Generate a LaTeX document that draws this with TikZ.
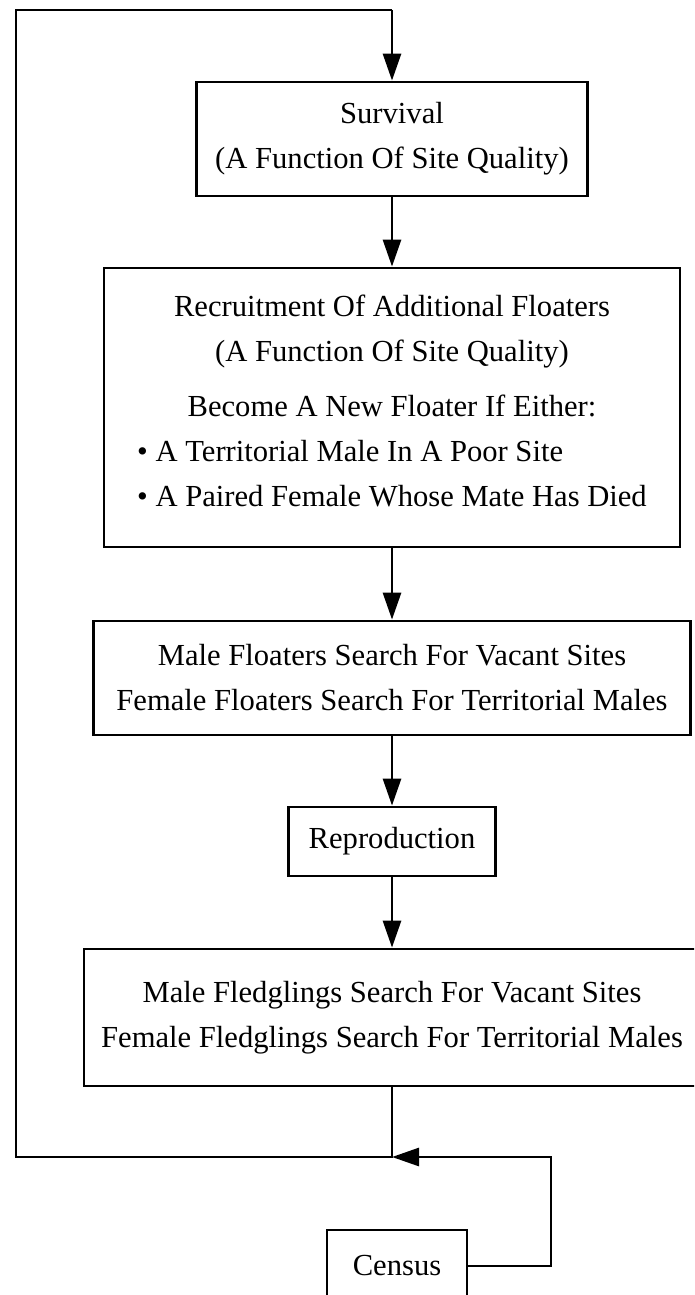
\documentclass[tikz,border=0pt]{standalone}
\usepackage{fontspec}
\setmainfont{Liberation Serif}
\usetikzlibrary{arrows.meta}
\begin{document}
\begin{tikzpicture}[x=1pt,y=-1pt,
  box/.style={draw, line width=2.8pt, inner sep=0pt, align=center,
    font=\fontsize{30.6}{45}\selectfont},
  conn/.style={line width=2.8pt},
  arr/.style={conn, -{Triangle[length=27pt,width=18pt]}}]
\useasboundingbox (0,0) rectangle (694,1295);
\clip (0,0) rectangle (694,1295);
\node[box, minimum width=391pt, minimum height=114pt] (surv) at (392,139)
  {Survival\\(A Function Of Site Quality)};
\node[box, minimum width=576pt, minimum height=279pt] (recr) at (392,407.5)
  {Recruitment Of Additional Floaters\\(A Function Of Site Quality)\\[10pt]
   Become A New Floater If Either:\\
   \begin{tabular}[t]{@{}l@{}}• A Territorial Male In A Poor Site\\• A Paired Female Whose Mate Has Died\end{tabular}};
\node[box, minimum width=597pt, minimum height=114pt] (flt) at (392,678)
  {Male Floaters Search For Vacant Sites\\Female Floaters Search For Territorial Males};
\node[box, minimum width=207pt, minimum height=69pt] (repr) at (392,841.5)
  {Reproduction};
\node[box, minimum width=616pt, minimum height=137pt] (fled) at (392,1017.5)
  {Male Fledglings Search For Vacant Sites\\Female Fledglings Search For Territorial Males};
\node[box, minimum width=140pt, minimum height=72pt] (cens) at (397,1266)
  {Census};
\coordinate (j) at (392,1157);
\coordinate (bl) at (16,1157);
\coordinate (tl) at (16,10);
\coordinate (tr) at (392,10);
\coordinate (cr) at (551,1157);
\draw[arr] (surv.south) -- (recr.north);
\draw[arr] (recr.south) -- (flt.north);
\draw[arr] (flt.south) -- (repr.north);
\draw[arr] (repr.south) -- (fled.north);
\draw[conn, line join=miter] (fled.south) -- (j) -- (bl) -- (tl) -- (tr);
\draw[arr] (tr) -- (surv.north);
\draw[arr, line join=miter] (cens.east) -| (cr) -- (j);
\end{tikzpicture}
\end{document}
